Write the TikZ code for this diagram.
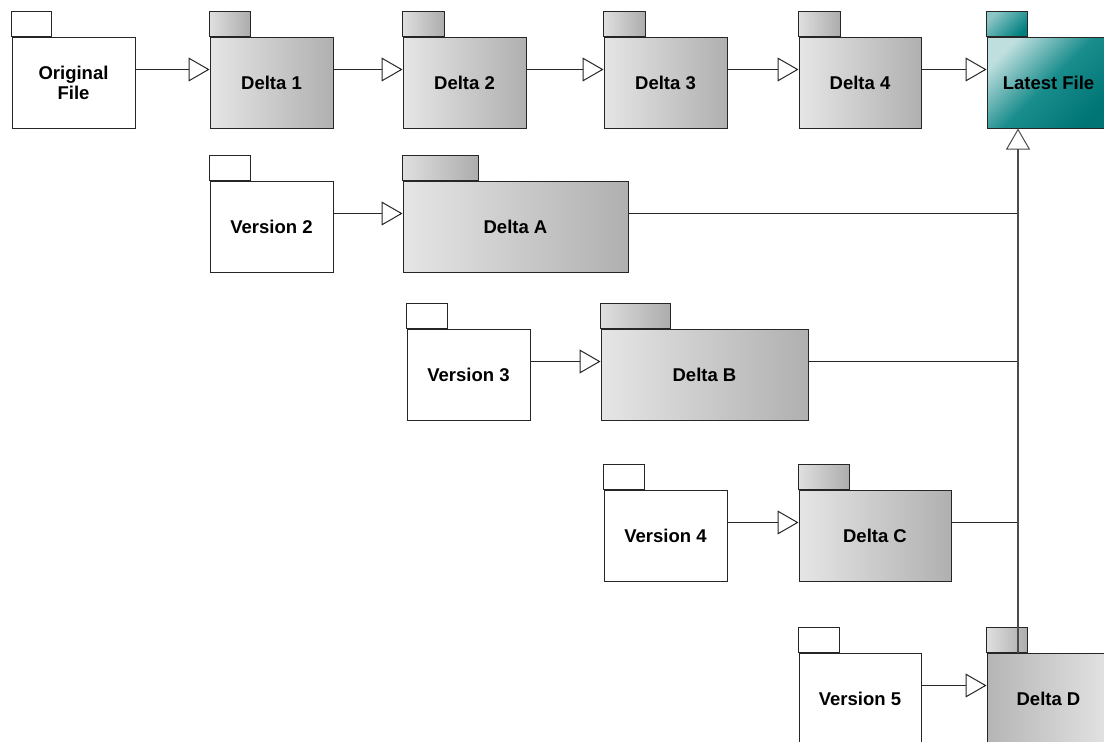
\documentclass[tikz,border=0pt]{standalone}
\usepackage{fontspec}
\setmainfont{Liberation Sans}
\usetikzlibrary{arrows.meta,positioning}

\tikzset{
  pkg/.style={draw=black!85, line width=1pt, inner sep=0pt, minimum height=91pt, align=center, font=\bfseries\fontsize{18.5}{20}\selectfont},
  pkgwhite/.style={pkg, fill=white, minimum width=123pt},
  pkggray/.style={pkg, left color=gray!20, right color=gray!62, minimum width=#1},
  pkggray/.default=123pt,
  pkgdark/.style={pkg, left color=gray!58, right color=gray!22, minimum width=123pt},
  pkgteal/.style={pkg, top color=teal!25, bottom color=teal!92!black, middle color=teal!90, shading angle=45, minimum width=123pt},
  tabwhite/.style={draw=black!85, line width=1pt, fill=white},
  tabgray/.style={draw=black!85, line width=1pt, left color=gray!25, right color=gray!65},
  tabteal/.style={draw=black!85, line width=1pt, top color=teal!45, bottom color=teal, shading angle=45},
  conn/.style={draw=black!85, line width=1pt},
  gen/.style={conn, -{Triangle[open, length=21pt, width=24pt]}},
}

% tab on top of a package: node, tab width, style
\newcommand{\pkgtab}[3]{\path[#3] (#1.north west) rectangle ++(#2,25);}

\begin{document}
\begin{tikzpicture}[x=1pt, y=1pt]
    \useasboundingbox (0,0) rectangle (1104,-742);
    \clip (0,0) rectangle (1104,-742);

    % main line of deltas
    \node (orig) [pkgwhite] at (73.5,-82.5) {Original\\File};
    \node (d1) [pkggray] at (271.5,-82.5) {Delta 1};
    \node (d2) [pkggray] at (464.5,-82.5) {Delta 2};
    \node (d3) [pkggray] at (665.5,-82.5) {Delta 3};
    \node (d4) [pkggray=122pt] at (860,-82.5) {Delta 4};
    \node (latest) [pkgteal] at (1048.5,-82.5) {Latest File};

    % older versions
    \node (v2) [pkgwhite] at (271.5,-226.5) {Version 2};
    \node (dA) [pkggray=225pt] at (515.5,-226.5) {Delta A};
    \node (v3) [pkgwhite] at (468.5,-374.5) {Version 3};
    \node (dB) [pkggray=207pt] at (704.5,-374.5) {Delta B};
    \node (v4) [pkgwhite] at (665.5,-535.5) {Version 4};
    \node (dC) [pkggray=152pt] at (875,-535.5) {Delta C};
    \node (v5) [pkgwhite, minimum width=122pt] at (860,-698.5) {Version 5};
    \node (dD) [pkgdark] at (1048.5,-698.5) {Delta D};

    % tabs
    \pkgtab{orig}{40}{tabwhite}
    \pkgtab{d1}{41}{tabgray}
    \pkgtab{d2}{42}{tabgray}
    \pkgtab{d3}{42}{tabgray}
    \pkgtab{d4}{42}{tabgray}
    \pkgtab{latest}{41}{tabteal}
    \pkgtab{v2}{41}{tabwhite}
    \pkgtab{dA}{76}{tabgray}
    \pkgtab{v3}{41}{tabwhite}
    \pkgtab{dB}{70}{tabgray}
    \pkgtab{v4}{41}{tabwhite}
    \pkgtab{dC}{51}{tabgray}
    \pkgtab{v5}{41}{tabwhite}
    \pkgtab{dD}{41}{tabgray}

    % arrows along the rows
    \draw[gen] ([yshift=-33pt]orig.north east) -- ([yshift=-33pt]d1.north west);
    \draw[gen] ([yshift=-33pt]d1.north east) -- ([yshift=-33pt]d2.north west);
    \draw[gen] ([yshift=-33pt]d2.north east) -- ([yshift=-33pt]d3.north west);
    \draw[gen] ([yshift=-33pt]d3.north east) -- ([yshift=-33pt]d4.north west);
    \draw[gen] ([yshift=-33pt]d4.north east) -- ([yshift=-33pt]latest.north west);
    \draw[gen] ([yshift=-33pt]v2.north east) -- ([yshift=-33pt]dA.north west);
    \draw[gen] ([yshift=-33pt]v3.north east) -- ([yshift=-33pt]dB.north west);
    \draw[gen] ([yshift=-33pt]v4.north east) -- ([yshift=-33pt]dC.north west);
    \draw[gen] ([yshift=-33pt]v5.north east) -- ([yshift=-33pt]dD.north west);

    % trunk up to the latest file
    \coordinate (bus) at ([xshift=-30.5pt]latest.south);
    \draw[conn] ([yshift=-33pt]dA.north east) -- ([yshift=-33pt]dA.north east -| bus);
    \draw[conn] ([yshift=-33pt]dB.north east) -- ([yshift=-33pt]dB.north east -| bus);
    \draw[conn] ([yshift=-33pt]dC.north east) -- ([yshift=-33pt]dC.north east -| bus);
    \draw[gen, line width=1.6pt, draw=black!70, -{Triangle[open, length=21pt, width=24pt, line width=1pt]}] (dD.north -| bus) -- (bus);
\end{tikzpicture}
\end{document}
